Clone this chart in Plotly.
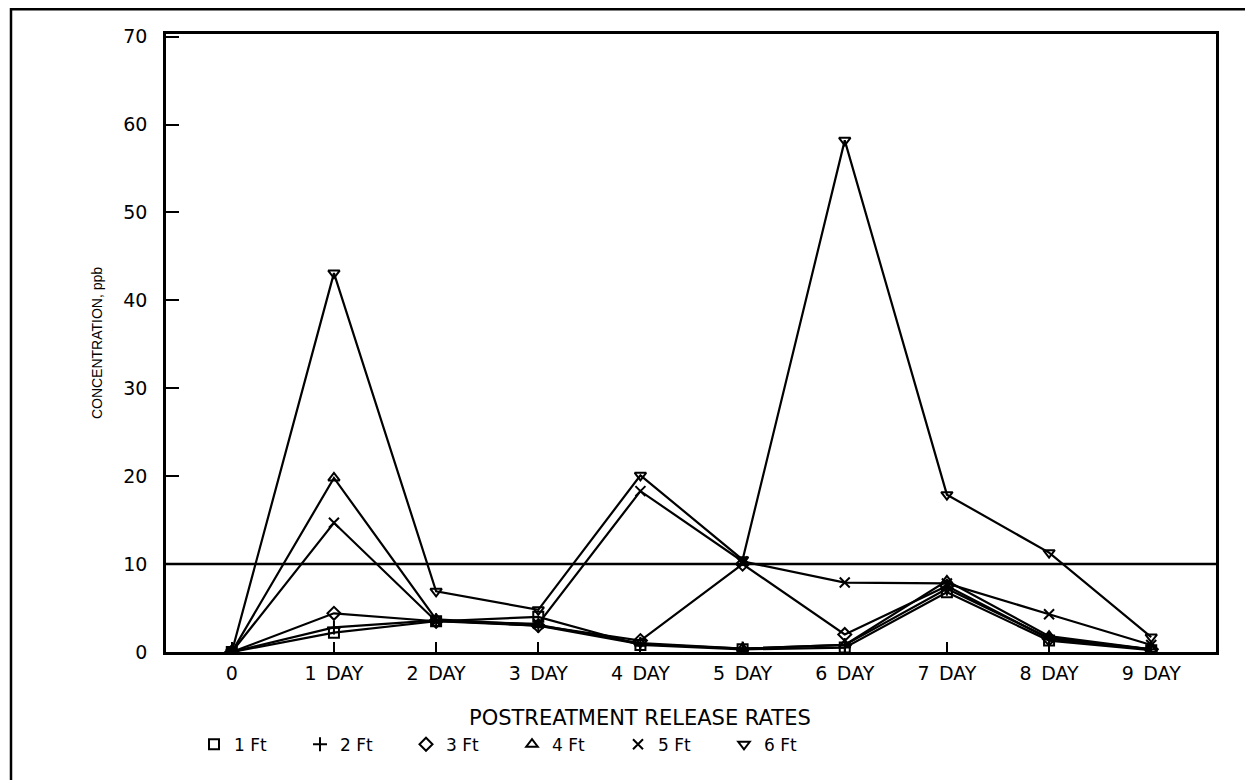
import plotly.graph_objects as go

# ---- data ----
x_pos = [0, 1, 2, 3, 4, 5, 6, 7, 8, 9]
x_labels = ["0", "1 DAY", "2 DAY", "3 DAY", "4 DAY", "5 DAY", "6 DAY", "7 DAY", "8 DAY", "9 DAY"]

ft1 = [0, 2.2, 3.5, 4.0, 0.8, 0.3, 0.5, 6.8, 1.3, 0.2]
ft2 = [0, 2.8, 3.6, 3.0, 0.9, 0.4, 0.8, 7.2, 1.6, 0.3]
ft3 = [0, 4.4, 3.5, 3.0, 1.3, 10.0, 2.0, 7.5, 1.5, 0.3]
ft4 = [0, 19.8, 3.7, 3.1, 1.0, 0.4, 0.8, 8.1, 1.8, 0.3]
ft5 = [0, 14.7, 3.5, 3.2, 18.3, 10.3, 7.9, 7.8, 4.3, 0.8]
ft6 = [0, 43.1, 6.9, 4.8, 20.1, 10.5, 58.2, 17.9, 11.3, 1.7]

series_names = ["1 Ft", "2 Ft", "3 Ft", "4 Ft", "5 Ft", "6 Ft"]
series_values = [ft1, ft2, ft3, ft4, ft5, ft6]
series_symbols = ["square-open", "cross-thin-open", "diamond-open",
                  "triangle-up-open", "x-thin-open", "triangle-down-open"]

THRESHOLD = 10
y_ticks = [0, 10, 20, 30, 40, 50, 60, 70]

TICK_FONT = dict(family="DejaVu Sans", size=19, color="black")

W, H = 1253, 780
ML, MR, MT, MB = 158, 45, 26, 136
PW, PH = W - ML - MR, H - MT - MB


def px_x(px):
    return (px - ML) / PW


def px_y(py):
    return (H - MB - py) / PH


fig = go.Figure()

for name, vals, sym in zip(series_names, series_values, series_symbols):
    fig.add_trace(go.Scatter(
        x=x_pos, y=vals, mode="lines+markers", name=name, showlegend=False,
        line=dict(color="black", width=2.2),
        marker=dict(symbol=sym, size=10, color="black",
                    line=dict(color="black", width=2)),
    ))

# legend entries (marker only, as in the reference)
for name, sym in zip(series_names, series_symbols):
    fig.add_trace(go.Scatter(
        x=[None], y=[None], mode="markers", name=name, showlegend=True,
        marker=dict(symbol=sym, size=10, color="black",
                    line=dict(color="black", width=2)),
    ))

fig.update_layout(
    width=W, height=H,
    margin=dict(l=ML, r=MR, t=MT, b=MB),
    paper_bgcolor="white", plot_bgcolor="white",
    font=dict(family="DejaVu Sans", color="black"),
    showlegend=True,
    legend=dict(orientation="h", x=px_x(186), y=-0.15, xanchor="left", yanchor="middle",
                entrywidth=61, entrywidthmode="pixels",
                font=dict(family="DejaVu Sans", size=17, color="black"),
                bgcolor="rgba(0,0,0,0)", itemclick=False),
)

fig.add_hline(y=THRESHOLD, line=dict(color="black", width=2.5))

# outer frame of the page
fig.add_shape(type="rect", xref="paper", yref="paper",
              x0=px_x(3), x1=px_x(W + 20), y0=px_y(H + 20), y1=px_y(1.2),
              line=dict(color="black", width=2.5), fillcolor="rgba(0,0,0,0)",
              layer="below")

# x axis title (placed left of centre, as in the reference)
fig.add_annotation(text="POSTREATMENT RELEASE RATES", xref="paper", yref="paper",
                   x=px_x(632), y=px_y(710), xanchor="center", yanchor="middle",
                   showarrow=False,
                   font=dict(family="DejaVu Sans", size=21, color="black"))

fig.update_xaxes(
    range=[-0.644, 9.634], tickmode="array", tickvals=x_pos,
    ticktext=[l.replace(" ", "\u2002") for l in x_labels],
    ticks="inside", ticklen=10, tickwidth=2, tickcolor="black",
    showline=True, linecolor="black", linewidth=2.5, mirror=True,
    showgrid=False, zeroline=False, tickfont=TICK_FONT, ticklabelstandoff=2,
)
fig.update_yaxes(
    range=[0, 70.3], tickmode="array", tickvals=y_ticks,
    ticks="inside", ticklen=13, tickwidth=2, tickcolor="black",
    showline=True, linecolor="black", linewidth=2.5, mirror=True,
    showgrid=False, zeroline=False, tickfont=TICK_FONT, ticklabelstandoff=12,
    title=dict(text="CONCENTRATION, ppb",
               font=dict(family="Liberation Sans", size=14, color="black"), standoff=18),
)

fig.write_html("out.html")
